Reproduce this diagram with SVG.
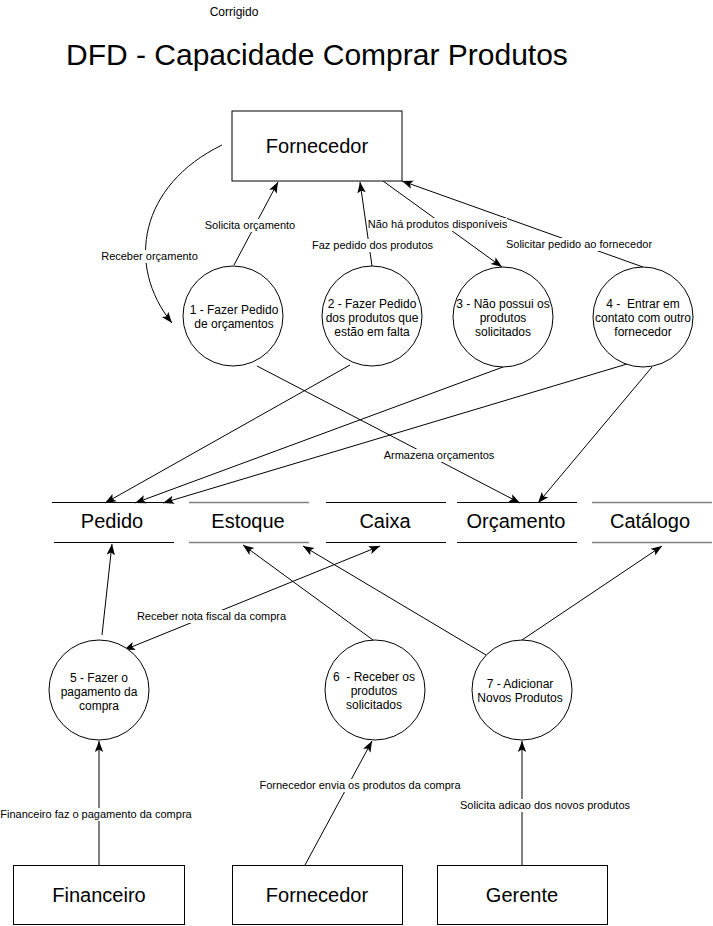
<svg xmlns="http://www.w3.org/2000/svg" width="713" height="926" viewBox="0 0 713 926">
<defs>
<marker id="arr" markerUnits="userSpaceOnUse" markerWidth="12" markerHeight="10" viewBox="0 0 12 10" refX="11" refY="5" orient="auto">
<path d="M0,0.8 L11,5 L0,9.2 L2.5,5 Z" fill="#000"/>
</marker>
<marker id="arrs" markerUnits="userSpaceOnUse" markerWidth="12" markerHeight="10" viewBox="0 0 12 10" refX="1" refY="5" orient="auto">
<path d="M12,0.8 L1,5 L12,9.2 L9.5,5 Z" fill="#000"/>
</marker>
</defs>
<style>
text{font-family:"Liberation Sans",Arial,sans-serif;fill:#000}
.ent{fill:#fff;stroke:#000;stroke-width:1}
.proc{fill:#fff;stroke:#000;stroke-width:1}
.big{font-size:20px;text-anchor:middle}
.ptxt{font-size:12px;text-anchor:middle;white-space:pre}
.lbl{font-size:11px;text-anchor:middle}
.bg{fill:#fff}
.ln{fill:none;stroke:#000;stroke-width:1;marker-end:url(#arr)}
.ds{stroke:#000;stroke-width:1}
.dsg{stroke:#808080;stroke-width:1.5}
</style>
<rect width="713" height="926" fill="#fff"/>
<text x="234" y="16" style="font-size:12px;text-anchor:middle">Corrigido</text>
<text x="66" y="65" style="font-size:30px">DFD - Capacidade Comprar Produtos</text>

<g id="connectors">
<path class="ln" d="M222,145 C140,185 125,265 172,323"/>
<line class="ln" x1="234" y1="265" x2="278" y2="182"/>
<line class="ln" x1="372" y1="266" x2="360" y2="182"/>
<line class="ln" x1="383" y1="181" x2="502" y2="267"/>
<line class="ln" x1="643" y1="267" x2="402" y2="181"/>
<line class="ln" x1="350" y1="365" x2="105" y2="503"/>
<line class="ln" x1="503" y1="367" x2="135" y2="503"/>
<line class="ln" x1="627" y1="364" x2="163" y2="503"/>
<line class="ln" x1="257" y1="366" x2="520" y2="503"/>
<line class="ln" x1="652" y1="367" x2="538" y2="503"/>
<line class="ln" x1="102" y1="635" x2="112" y2="544"/>
<line class="ln" x1="380" y1="546" x2="124" y2="650" style="marker-start:url(#arrs)"/>
<line class="ln" x1="373" y1="640" x2="243" y2="545"/>
<line class="ln" x1="486" y1="655" x2="303" y2="546"/>
<line class="ln" x1="522" y1="640" x2="662" y2="546"/>
<line class="ln" x1="99" y1="865" x2="99" y2="741"/>
<line class="ln" x1="305" y1="865" x2="372" y2="741"/>
<line class="ln" x1="522" y1="865" x2="522" y2="741"/>
<g id="labels">
<rect class="bg" x="101" y="250" width="97" height="13"/>
<text class="lbl" x="149.5" y="260">Receber orçamento</text>
<rect class="bg" x="204" y="219" width="92" height="13"/>
<text class="lbl" x="250" y="229">Solicita orçamento</text>
<rect class="bg" x="312" y="239" width="121" height="13"/>
<text class="lbl" x="372.5" y="249">Faz pedido dos produtos</text>
<rect class="bg" x="368" y="218" width="139" height="13"/>
<text class="lbl" x="437.5" y="228">Não há produtos disponíveis</text>
<rect class="bg" x="506" y="238" width="146" height="13"/>
<text class="lbl" x="579" y="248">Solicitar pedido ao fornecedor</text>
<rect class="bg" x="384" y="449" width="110" height="13"/>
<text class="lbl" x="439" y="459">Armazena orçamentos</text>
<rect class="bg" x="137" y="610" width="149" height="13"/>
<text class="lbl" x="211.5" y="620">Receber nota fiscal da compra</text>
<rect class="bg" x="0" y="808" width="192" height="13"/>
<text class="lbl" x="96" y="818">Financeiro faz o pagamento da compra</text>
<rect class="bg" x="259" y="779" width="202" height="13"/>
<text class="lbl" x="360" y="789">Fornecedor envia os produtos da compra</text>
<rect class="bg" x="459" y="799" width="172" height="13"/>
<text class="lbl" x="545" y="809">Solicita adicao dos novos produtos</text>
</g>
</g>

<g id="fornecedor-top">
<rect class="ent" x="232" y="111" width="170" height="70"/>
<text class="big" x="317" y="153">Fornecedor</text>
</g>

<g id="p1">
<circle class="proc" cx="233" cy="316" r="50"/>
<text class="ptxt" x="234" y="313.5">1 - Fazer Pedido</text>
<text class="ptxt" x="234" y="327.5">de orçamentos</text>
</g>
<g id="p2">
<circle class="proc" cx="372" cy="316" r="50"/>
<text class="ptxt" x="372" y="308">2 - Fazer Pedido</text>
<text class="ptxt" x="372" y="322">dos produtos que</text>
<text class="ptxt" x="372" y="336">estão em falta</text>
</g>
<g id="p3">
<circle class="proc" cx="503" cy="317" r="50"/>
<text class="ptxt" x="503" y="308">3 - Não possui os</text>
<text class="ptxt" x="503" y="322">produtos</text>
<text class="ptxt" x="503" y="336">solicitados</text>
</g>
<g id="p4">
<circle class="proc" cx="643" cy="317" r="50"/>
<text class="ptxt" x="643" y="308">4 -  Entrar em</text>
<text class="ptxt" x="643" y="322">contato com outro</text>
<text class="ptxt" x="643" y="336">fornecedor</text>
</g>

<g id="ds-pedido">
<line class="ds" x1="52" y1="502.5" x2="173" y2="502.5"/>
<line class="ds" x1="54" y1="542.5" x2="174" y2="542.5"/>
<text class="big" x="112" y="528">Pedido</text>
</g>
<g id="ds-estoque">
<line class="dsg" x1="189" y1="502.5" x2="309" y2="502.5"/>
<line class="dsg" x1="189" y1="542.5" x2="309" y2="542.5"/>
<text class="big" x="248" y="528">Estoque</text>
</g>
<g id="ds-caixa">
<line class="ds" x1="326" y1="502.5" x2="446" y2="502.5"/>
<line class="ds" x1="326" y1="542.5" x2="446" y2="542.5"/>
<text class="big" x="385" y="528">Caixa</text>
</g>
<g id="ds-orcamento">
<line class="ds" x1="457" y1="502.5" x2="577" y2="502.5"/>
<line class="ds" x1="457" y1="542.5" x2="577" y2="542.5"/>
<text class="big" x="516" y="528">Orçamento</text>
</g>
<g id="ds-catalogo">
<line class="dsg" x1="592" y1="502.5" x2="712" y2="502.5"/>
<line class="dsg" x1="592" y1="542.5" x2="712" y2="542.5"/>
<text class="big" x="650" y="528">Catálogo</text>
</g>

<g id="p5">
<circle class="proc" cx="99" cy="690" r="50"/>
<text class="ptxt" x="99" y="682">5 - Fazer o</text>
<text class="ptxt" x="99" y="696">pagamento da</text>
<text class="ptxt" x="99" y="710">compra</text>
</g>
<g id="p6">
<circle class="proc" cx="375" cy="690" r="50"/>
<text class="ptxt" x="374" y="681">6  - Receber os</text>
<text class="ptxt" x="374" y="695">produtos</text>
<text class="ptxt" x="374" y="709">solicitados</text>
</g>
<g id="p7">
<circle class="proc" cx="522" cy="690" r="50"/>
<text class="ptxt" x="520" y="688">7 - Adicionar</text>
<text class="ptxt" x="520" y="702">Novos Produtos</text>
</g>

<g id="financeiro">
<rect class="ent" x="13.5" y="865.5" width="171" height="59"/>
<text class="big" x="99" y="902">Financeiro</text>
</g>
<g id="fornecedor-bottom">
<rect class="ent" x="232.5" y="865.5" width="170" height="59"/>
<text class="big" x="317" y="902">Fornecedor</text>
</g>
<g id="gerente">
<rect class="ent" x="437.5" y="865.5" width="170" height="59"/>
<text class="big" x="522" y="902">Gerente</text>
</g>
</svg>
